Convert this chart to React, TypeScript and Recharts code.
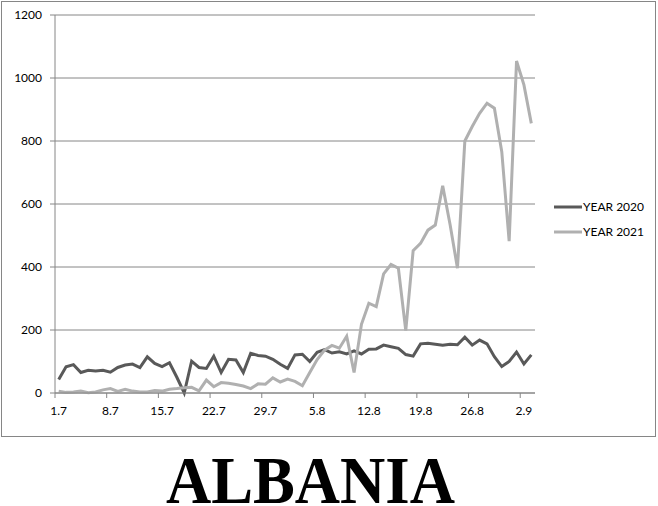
import { CartesianGrid, Legend, Line, LineChart, XAxis, YAxis } from "recharts";

// daily dates 1.7 .. 3.9
const dates = [
  "1.7", "2.7", "3.7", "4.7", "5.7", "6.7", "7.7", "8.7", "9.7", "10.7",
  "11.7", "12.7", "13.7", "14.7", "15.7", "16.7", "17.7", "18.7", "19.7", "20.7",
  "21.7", "22.7", "23.7", "24.7", "25.7", "26.7", "27.7", "28.7", "29.7", "30.7",
  "31.7", "1.8", "2.8", "3.8", "4.8", "5.8", "6.8", "7.8", "8.8", "9.8",
  "10.8", "11.8", "12.8", "13.8", "14.8", "15.8", "16.8", "17.8", "18.8", "19.8",
  "20.8", "21.8", "22.8", "23.8", "24.8", "25.8", "26.8", "27.8", "28.8", "29.8",
  "30.8", "31.8", "1.9", "2.9", "3.9",
];

const year2020 = [
  43, 83, 90, 65, 72, 70, 72, 66, 81, 89,
  92, 81, 115, 94, 84, 96, 50, 0, 101, 81,
  78, 117, 65, 107, 105, 65, 126, 119, 117, 107,
  91, 78, 121, 123, 100, 129, 138, 127, 131, 124,
  134, 124, 139, 140, 152, 147, 142, 122, 117, 156,
  158, 155, 152, 155, 153, 177, 152, 168, 156, 115,
  84, 100, 130, 92, 121,
];

const year2021 = [
  6, 2, 3, 6, 1, 3, 10, 14, 5, 12,
  6, 3, 3, 8, 6, 12, 14, 17, 18, 7,
  41, 20, 33, 31, 27, 22, 14, 29, 28, 48,
  35, 44, 37, 23, 65, 106, 136, 151, 142, 180,
  65, 218, 285, 274, 378, 408, 396, 198, 452, 475,
  517, 533, 658, 535, 396, 800, 846, 888, 920, 904,
  766, 482, 1054, 978, 856,
];

const yTicks = [0, 200, 400, 600, 800, 1000, 1200];
const dateTicks = [0, 7, 14, 21, 28, 35, 42, 49, 56, 63];

const data = dates.map((d, i) => ({ i, date: d, y2020: year2020[i], y2021: year2021[i] }));

const AXIS = "#868686";
const FONT = "Lato, 'Noto Sans', sans-serif";
const W = 658;
const H = 440;
const Y_AXIS_W = 55;
const RIGHT = 123;
const PLOT_W = W - Y_AXIS_W - RIGHT;
const STEP = PLOT_W / dates.length;
const TICK_SIZE = 5;
const TICK_MARGIN = 8;

// label sits in the middle of the day, tick mark on the boundary before it
function DateTick({ x, y, payload }: any) {
  const bx = x - STEP / 2;
  return (
    <g>
      <line x1={bx} x2={bx} y1={y - TICK_MARGIN - TICK_SIZE} y2={y - TICK_MARGIN} stroke={AXIS} />
      <text x={x} y={y} dy="0.71em" textAnchor="middle" fontSize={12} fontFamily={FONT} fill="#000">
        {dates[payload.value]}
      </text>
    </g>
  );
}

function LegendBox({ payload }: any) {
  return (
    <div style={{ fontFamily: FONT }}>
      {(payload || []).map((p: any) => (
        <div key={p.value} style={{ display: "flex", alignItems: "center", height: 25 }}>
          <svg width={28} height={4}>
            <line x1={0} x2={28} y1={2} y2={2} stroke={p.color} strokeWidth={3} />
          </svg>
          <span style={{ fontSize: 12, color: "#000", marginLeft: 1 }}>{p.value}</span>
        </div>
      ))}
    </div>
  );
}

export default function App() {
  return (
    <div style={{ position: "absolute", left: 0, top: 0, width: W, height: 506, background: "#fff" }}>
      <div
        style={{
          position: "absolute",
          left: 1,
          top: 1,
          width: 653,
          height: 434,
          border: `1px solid ${AXIS}`,
        }}
      />
      <div style={{ position: "absolute", left: 0, top: 0 }}>
        <LineChart width={W} height={H} data={data} margin={{ top: 15, right: RIGHT, left: 0, bottom: 17 }}>
          <CartesianGrid vertical={false} stroke={AXIS} />
          <XAxis
            dataKey="i"
            type="number"
            domain={[-0.5, dates.length - 0.5]}
            ticks={dateTicks}
            interval={0}
            height={30}
            stroke={AXIS}
            tickLine={false}
            tickSize={TICK_SIZE}
            tickMargin={TICK_MARGIN}
            tick={<DateTick />}
          />
          <YAxis
            domain={[0, 1200]}
            ticks={yTicks}
            width={Y_AXIS_W}
            stroke={AXIS}
            tickSize={TICK_SIZE}
            tickMargin={TICK_MARGIN}
            tick={{ fill: "#000", fontSize: 12, fontFamily: FONT }}
          />
          <Legend
            layout="vertical"
            align="center"
            verticalAlign="middle"
            wrapperStyle={{ left: 554, top: 194, width: 100 }}
            content={<LegendBox />}
          />
          <Line
            type="linear"
            dataKey="y2020"
            name="YEAR 2020"
            stroke="#595959"
            strokeWidth={3}
            dot={false}
            isAnimationActive={false}
          />
          <Line
            type="linear"
            dataKey="y2021"
            name="YEAR 2021"
            stroke="#b0b0b0"
            strokeWidth={3}
            dot={false}
            isAnimationActive={false}
          />
        </LineChart>
      </div>
      <svg style={{ position: "absolute", left: 0, top: 436 }} width={W} height={70}>
        <text
          x={166}
          y={67}
          fontFamily="'Liberation Serif', serif"
          fontWeight="bold"
          fontSize={67}
          textLength={289}
          lengthAdjust="spacingAndGlyphs"
          fill="#000"
        >
          ALBANIA
        </text>
      </svg>
    </div>
  );
}
